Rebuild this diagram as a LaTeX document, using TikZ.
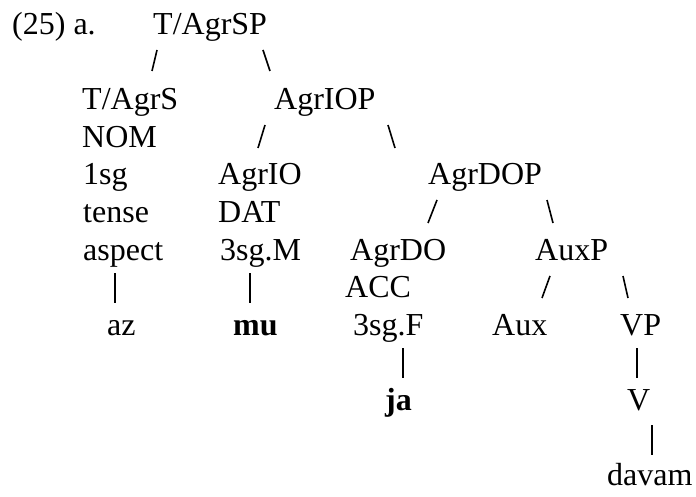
\documentclass[tikz,border=0pt]{standalone}
\usepackage{fontspec}
\setmainfont{Liberation Serif}
\begin{document}
\begin{tikzpicture}[x=1pt,y=1pt,
  lab/.style={anchor=base west,inner sep=0pt,font=\fontsize{32}{38}\selectfont},
  edge/.style={line width=1.6pt}]
\useasboundingbox (0,0) rectangle (696,-497);
% row 0
\node[lab] (ex) at (12,-35) {(25) a.};
\node[lab] (tagrsp) at (153,-35) {T/AgrSP};
\draw[edge] (157,-50) -- (152,-71);
\draw[edge] (263,-50) -- (270,-71);
% row 2
\node[lab] (tagrs) at (82,-110) {T/AgrS};
\node[lab] (agriop) at (274,-110) {AgrIOP};
% row 3
\node[lab] (nom) at (82,-147.5) {NOM};
\draw[edge] (265,-125) -- (258,-148);
\draw[edge] (388,-125) -- (395,-148);
% row 4
\node[lab] (sg1) at (83,-185) {1sg};
\node[lab] (agrio) at (218,-185) {AgrIO};
\node[lab] (agrdop) at (428,-185) {AgrDOP};
% row 5
\node[lab] (tense) at (83,-222.5) {tense};
\node[lab] (dat) at (218,-222.5) {DAT};
\draw[edge] (437,-200) -- (428,-223);
\draw[edge] (547,-200) -- (553,-223);
% row 6
\node[lab] (aspect) at (83,-260) {aspect};
\node[lab] (sgM) at (220,-260) {3sg.M};
\node[lab] (agrdo) at (350,-260) {AgrDO};
\node[lab] (auxp) at (535,-260) {AuxP};
% row 7
\draw[edge] (115,-273) -- (115,-303);
\draw[edge] (250,-273) -- (250,-303);
\node[lab] (acc) at (345,-297.5) {ACC};
\draw[edge] (550,-276) -- (542,-298);
\draw[edge] (623,-276) -- (628,-298);
% row 8
\node[lab] (az) at (107,-335) {az};
\node[lab] (mu) at (233,-335) {\bfseries mu};
\node[lab] (sgF) at (353,-335) {3sg.F};
\node[lab] (aux) at (492,-335) {Aux};
\node[lab] (vp) at (620,-335) {VP};
% row 9
\draw[edge] (403,-348) -- (403,-378);
\draw[edge] (637,-348) -- (637,-378);
% row 10
\node[lab] (ja) at (385,-410) {\bfseries ja};
\node[lab] (v) at (627,-410) {V};
% row 11
\draw[edge] (652,-425) -- (652,-455);
% row 12
\node[lab] (davam) at (607,-485) {davam};
\end{tikzpicture}
\end{document}
